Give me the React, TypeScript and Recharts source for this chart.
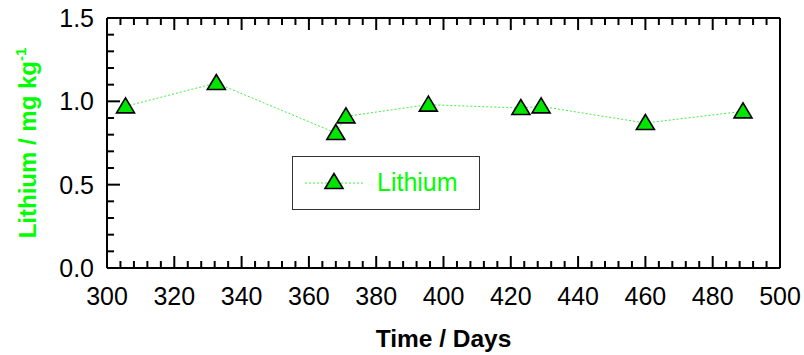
import { LineChart, Line, XAxis, YAxis, Legend } from 'recharts';

const days = [305.5, 332.5, 368, 371, 395.5, 423, 429, 460, 489];
const lithium = [0.97, 1.11, 0.81, 0.91, 0.98, 0.96, 0.97, 0.87, 0.94];

const xTicks = [
  300, 304, 308, 312, 316, 320, 324, 328, 332, 336, 340, 344, 348, 352, 356, 360, 364, 368, 372, 376,
  380, 384, 388, 392, 396, 400, 404, 408, 412, 416, 420, 424, 428, 432, 436, 440, 444, 448, 452, 456,
  460, 464, 468, 472, 476, 480, 484, 488, 492, 496, 500,
];
const yTicks = [0, 0.1, 0.2, 0.3, 0.4, 0.5, 0.6, 0.7, 0.8, 0.9, 1.0, 1.1, 1.2, 1.3, 1.4, 1.5];

const seriesName = 'Lithium';
const xTitle = 'Time / Days';
const yTitle = 'Lithium / mg kg';

const chartData = days.map((d, i) => ({ day: d, lithium: lithium[i] }));

const FONT = '"Liberation Sans", Arial, sans-serif';
const GREEN = '#00ff00';
const MARKER = '#00e600';
const LINE = '#44ee44';

const isMajorX = (v: number) => v % 20 === 0;
const isMajorY = (v: number) => Math.round(v * 10) % 5 === 0;

function Triangle({ cx, cy }: { cx?: number; cy?: number }) {
  if (cx == null || cy == null) return null;
  return (
    <polygon
      points={`${cx},${cy - 8.5} ${cx - 9},${cy + 6.5} ${cx + 9},${cy + 6.5}`}
      fill={MARKER}
      stroke="#000"
      strokeWidth={1.6}
      strokeLinejoin="miter"
    />
  );
}

function BottomTick(props: any) {
  const { x, y, payload } = props;
  const v = payload.value as number;
  const major = isMajorX(v);
  return (
    <g>
      <line x1={x} x2={x} y1={y} y2={y - (major ? 12 : 7)} stroke="#000" strokeWidth={2} />
      {major && (
        <text x={x} y={y + 37} textAnchor="middle" fontSize={25} fontFamily={FONT} fill="#000">
          {v}
        </text>
      )}
    </g>
  );
}

function TopTick(props: any) {
  const { x, y, payload } = props;
  const major = isMajorX(payload.value);
  return <line x1={x} x2={x} y1={y} y2={y + (major ? 12 : 7)} stroke="#000" strokeWidth={2} />;
}

function LeftTick(props: any) {
  const { x, y, payload } = props;
  const v = payload.value as number;
  const major = isMajorY(v);
  return (
    <g>
      <line x1={x} x2={x + (major ? 13 : 7)} y1={y} y2={y} stroke="#000" strokeWidth={2} />
      {major && (
        <text x={x - 13} y={y + 9} textAnchor="end" fontSize={25} fontFamily={FONT} fill="#000">
          {v.toFixed(1)}
        </text>
      )}
    </g>
  );
}

function RightTick(props: any) {
  const { x, y, payload } = props;
  const major = isMajorY(payload.value);
  return <line x1={x} x2={x - (major ? 13 : 7)} y1={y} y2={y} stroke="#000" strokeWidth={2} />;
}

function LegendBox() {
  return (
    <svg width={188} height={54} style={{ display: 'block' }}>
      <rect x={0.5} y={0.5} width={187} height={53} fill="#fff" stroke="#333" strokeWidth={1} />
      <line x1={13} x2={71} y1={27} y2={27} stroke={LINE} strokeWidth={1} strokeDasharray="2 2" />
      <Triangle cx={42} cy={26} />
      <text x={85} y={35} fontSize={25} fontFamily={FONT} fill={GREEN}>
        {seriesName}
      </text>
    </svg>
  );
}

export default function App() {
  return (
    <div style={{ position: 'absolute', left: 0, top: 0, background: '#fff' }}>
      <LineChart width={804} height={355} data={chartData} margin={{ top: 0, right: 0, bottom: 0, left: 0 }}>
        <XAxis
          dataKey="day"
          type="number"
          domain={[300, 500]}
          ticks={xTicks}
          interval={0}
          height={87}
          tickSize={0}
          tickMargin={0}
          tickLine={false}
          axisLine={{ stroke: '#000', strokeWidth: 2 }}
          tick={<BottomTick />}
          label={(p: any) => {
            const vb = p.viewBox;
            return (
              <text
                x={vb.x + vb.width / 2}
                y={vb.y + 79}
                textAnchor="middle"
                fontSize={24.5}
                fontWeight="bold"
                fontFamily={FONT}
                fill="#000"
              >
                {xTitle}
              </text>
            );
          }}
        />
        <XAxis
          xAxisId="top"
          orientation="top"
          dataKey="day"
          type="number"
          domain={[300, 500]}
          ticks={xTicks}
          interval={0}
          height={18}
          tickSize={0}
          tickMargin={0}
          tickLine={false}
          axisLine={{ stroke: '#000', strokeWidth: 2 }}
          tick={<TopTick />}
        />
        <YAxis
          type="number"
          domain={[0, 1.5]}
          ticks={yTicks}
          interval={0}
          width={107}
          tickSize={0}
          tickMargin={0}
          tickLine={false}
          axisLine={{ stroke: '#000', strokeWidth: 2 }}
          tick={<LeftTick />}
          label={() => {
            const cx = 36;
            const cy = 143;
            return (
              <text
                x={cx}
                y={cy}
                transform={`rotate(-90, ${cx}, ${cy})`}
                textAnchor="middle"
                fontSize={24}
                fontWeight="bold"
                fontFamily={FONT}
                fill={GREEN}
              >
                <tspan>{yTitle}</tspan>
                <tspan dy={-10} fontSize={15}>-1</tspan>
              </text>
            );
          }}
        />
        <YAxis
          yAxisId="right"
          orientation="right"
          type="number"
          domain={[0, 1.5]}
          ticks={yTicks}
          interval={0}
          width={24}
          tickSize={0}
          tickMargin={0}
          tickLine={false}
          axisLine={{ stroke: '#000', strokeWidth: 2 }}
          tick={<RightTick />}
        />
        <Legend
          layout="horizontal"
          verticalAlign="middle"
          align="center"
          wrapperStyle={{ left: 292, top: 156, width: 188, height: 54 }}
          content={() => <LegendBox />}
        />
        <Line
          type="linear"
          dataKey="lithium"
          name={seriesName}
          stroke={LINE}
          strokeWidth={1}
          strokeDasharray="2 2"
          dot={(p: any) => <Triangle key={p.index} cx={p.cx} cy={p.cy} />}
          activeDot={false}
          isAnimationActive={false}
        />
      </LineChart>
    </div>
  );
}
